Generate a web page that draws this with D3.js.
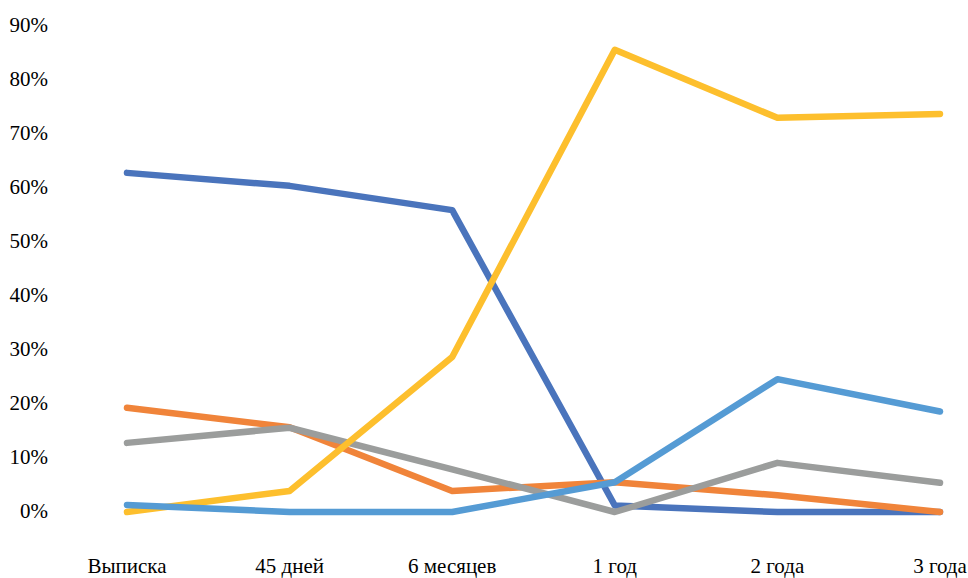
<!DOCTYPE html>
<html><head><meta charset="utf-8">
<script src="https://cdn.jsdelivr.net/npm/d3@7"></script>
</head><body style="margin:0"><svg id="c" width="968" height="578" font-family="Liberation Serif"></svg>
<script>
const categories = ["Выписка", "45 дней", "6 месяцев", "1 год", "2 года", "3 года"];
const yTicks = [0, 10, 20, 30, 40, 50, 60, 70, 80, 90];
const seriesDarkBlue  = [62.8, 60.4, 55.9, 1.2, 0, 0];
const seriesOrange    = [19.3, 15.7, 3.9, 5.5, 3.1, 0];
const seriesGray      = [12.8, 15.6, 7.9, 0, 9.1, 5.4];
const seriesYellow    = [0, 3.9, 28.7, 85.6, 73.0, 73.7];
const seriesLightBlue = [1.3, 0, 0, 5.5, 24.6, 18.6];
const colors = ["#4A74BC", "#F0843A", "#9B9D9C", "#FDBF2D", "#559BD4"];
const series = [seriesDarkBlue, seriesOrange, seriesGray, seriesYellow, seriesLightBlue];

const svg = d3.select("#c");
const x = d3.scalePoint().domain(categories).range([127, 940]);
const y = d3.scaleLinear().domain([0, 90]).range([512, 26]);

svg.append("g").selectAll("text").data(yTicks).join("text")
  .attr("x", 48).attr("y", d => y(d) + 5.5)
  .attr("text-anchor", "end").attr("fill", "#000")
  .attr("font-family", "Liberation Serif").style("font-family", "Liberation Serif").attr("font-size", 21)
  .text(d => d + "%");

svg.append("g").selectAll("text").data(categories).join("text")
  .attr("x", d => x(d)).attr("y", 573)
  .attr("text-anchor", "middle").attr("fill", "#000")
  .attr("font-family", "Liberation Serif").style("font-family", "Liberation Serif").attr("font-size", 21)
  .text(d => d);

const line = d3.line().x((d, i) => x(categories[i])).y(d => y(d));
series.forEach((s, i) => {
  svg.append("path").datum(s).attr("d", line).attr("fill", "none")
    .attr("stroke", colors[i]).attr("stroke-width", 6.5)
    .attr("stroke-linecap", "round").attr("stroke-linejoin", "round");
});
</script></body></html>
